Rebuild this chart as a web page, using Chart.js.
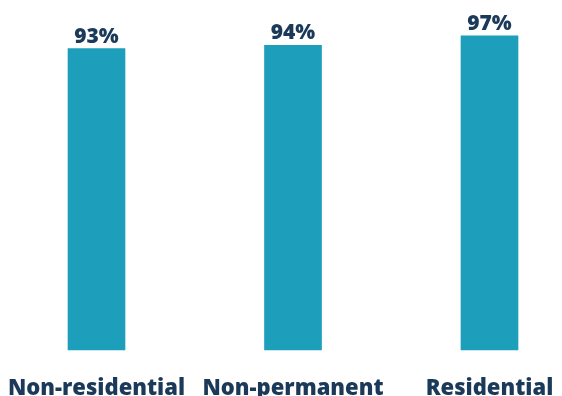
<!DOCTYPE html>
<html>
<head>
<meta charset="utf-8">
<script src="https://cdn.jsdelivr.net/npm/chart.js@4/dist/chart.umd.min.js"></script>
<style>
  html, body { margin: 0; padding: 0; background: #fff; }
  #wrap { width: 562px; height: 396px; position: relative; }
</style>
</head>
<body>
<div id="wrap"><canvas id="chart"></canvas></div>
<script>
// ─── DATA ────────────────────────────────────────────────────────
const categories = ['Non-residential', 'Non-permanent', 'Residential'];
const shares     = [93, 94, 97];

const BAR_COLOR  = '#1d9ebb';
const TEXT_COLOR = '#1b3a5a';
const FONT       = "'Open Sans', sans-serif";

// value labels above each bar
const valueLabels = {
  id: 'valueLabels',
  afterDatasetsDraw(chart) {
    const ctx = chart.ctx;
    const meta = chart.getDatasetMeta(0);
    ctx.save();
    ctx.font = `800 21px ${FONT}`;
    ctx.fillStyle = TEXT_COLOR;
    ctx.textAlign = 'center';
    ctx.textBaseline = 'alphabetic';
    meta.data.forEach((bar, i) => {
      ctx.fillText(shares[i] + '%', bar.x, bar.y - 6);
    });
    ctx.restore();
  }
};

new Chart(document.getElementById('chart'), {
  type: 'bar',
  data: {
    labels: categories,
    datasets: [{
      data: shares,
      backgroundColor: BAR_COLOR,
      barThickness: 57,
      clip: false
    }]
  },
  options: {
    responsive: true, maintainAspectRatio: false,
    animation: false,
    layout: { padding: { top: 26, left: 96.5, right: 72.5, bottom: 0 } },
    plugins: { legend: { display: false }, tooltip: { enabled: false } },
    scales: {
      x: {
        offset: false,
        grid: { display: false, drawTicks: false },
        border: { display: false },
        ticks: { padding: 26, color: TEXT_COLOR, font: { family: FONT, size: 22, weight: '800' }, maxRotation: 0, autoSkip: false },
        afterFit: s => { s.height = 46; s.paddingLeft = 0; s.paddingRight = 0; }
      },
      y: { display: false, min: 0, max: 100 }
    }
  },
  plugins: [valueLabels]
});
</script>
</body>
</html>
